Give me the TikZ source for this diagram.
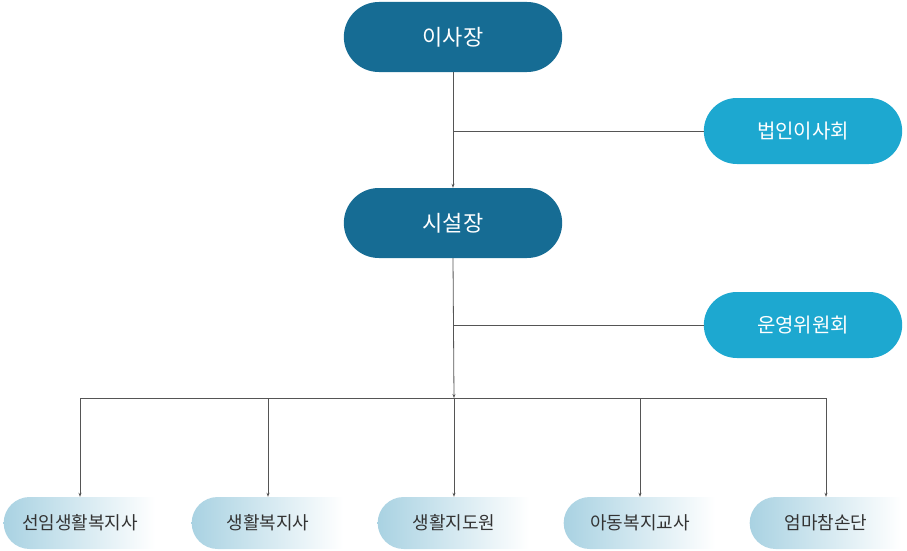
\documentclass[tikz,border=0pt]{standalone}
\usepackage{fontspec}
\setmainfont{Noto Sans CJK KR}
\usetikzlibrary{shapes.misc,arrows.meta}
\definecolor{headblue}{HTML}{166C94}
\definecolor{sideblue}{HTML}{1DA8D0}
\definecolor{staffblue}{HTML}{A9D2E2}
\definecolor{linegray}{HTML}{555555}

\begin{document}
\begin{tikzpicture}[x=1pt,y=-1pt,
    head/.style={rounded rectangle, fill=headblue, text=white, minimum width=225pt, minimum height=70pt, font=\fontsize{22}{24}\selectfont},
    side/.style={rounded rectangle, fill=sideblue, text=white, minimum width=205pt, minimum height=66pt, font=\fontsize{20}{22}\selectfont},
    staff/.style={rounded rectangle, rounded rectangle right arc=none, left color=staffblue, right color=white, text=black!80, minimum width=158pt, minimum height=52pt, font=\fontsize{18}{20}\selectfont},
    link/.style={draw=linegray, line width=0.8pt},
    arrow/.style={link, -{Stealth[length=4pt,width=3pt]}}]
  \useasboundingbox (0,0) rectangle (907,551);
  \node[head] (chair) at (453,37) {이사장};
  \node[side] (board) at (803,131) {법인이사회};
  \node[head] (director) at (453,223) {시설장};
  \node[side] (committee) at (803,325) {운영위원회};
  \coordinate (bus) at (454,398);
  \foreach \name/\x/\txt in {senior/80/선임생활복지사, welfare/268/생활복지사, guide/454/생활지도원, teacher/640/아동복지교사, mom/826/엄마참손단}{
    \node[staff] (\name) at (\x,523) {\txt};
    \draw[arrow] (\x,398) -- (\name.north);
  }
  \draw[arrow] (chair.south) -- (director.north);
  \draw[link] (454,131) -- (board.west);
  \draw[arrow] (director.south) -- (bus);
  \draw[link] (454,325) -- (committee.west);
  \draw[link] (senior.north |- bus) -- (mom.north |- bus);
\end{tikzpicture}
\end{document}
